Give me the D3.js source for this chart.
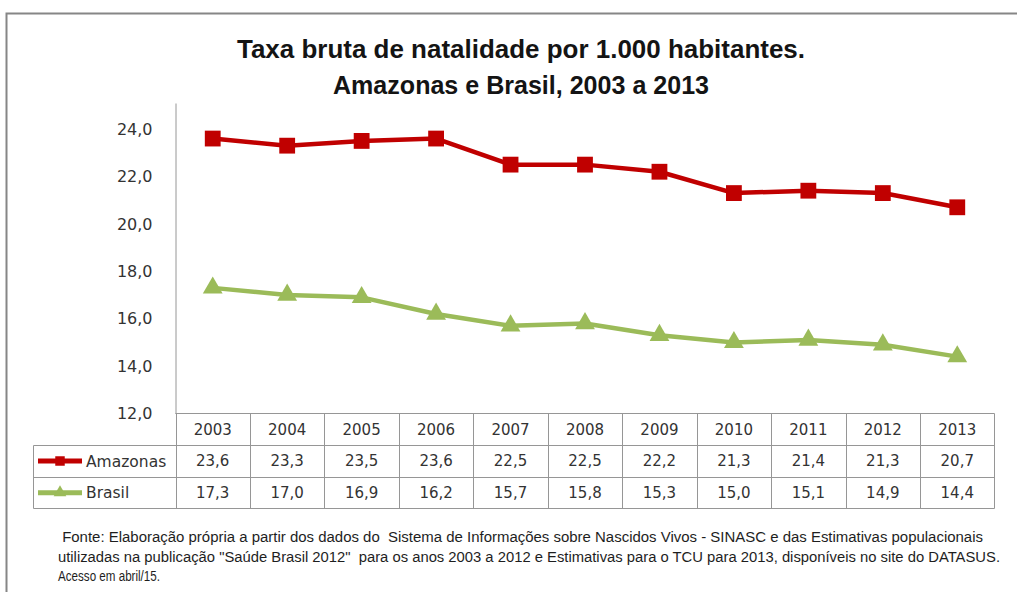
<!DOCTYPE html>
<html>
<head>
<meta charset="utf-8">
<script src="https://cdn.jsdelivr.net/npm/d3@7"></script>
<style>
  html, body { margin: 0; padding: 0; background: #fff; }
  svg { display: block; }
</style>
</head>
<body>
<div id="canvas"></div>
<script>
// Data.
const YEARS = ["2003", "2004", "2005", "2006", "2007", "2008", "2009", "2010", "2011", "2012", "2013"];
const AMAZONAS = [23.6, 23.3, 23.5, 23.6, 22.5, 22.5, 22.2, 21.3, 21.4, 21.3, 20.7];
const BRASIL = [17.3, 17.0, 16.9, 16.2, 15.7, 15.8, 15.3, 15.0, 15.1, 14.9, 14.4];
const SERIES_NAMES = ["Amazonas", "Brasil"];
const Y_TICKS = [12, 14, 16, 18, 20, 22, 24];

const TITLE_LINES = [
    "Taxa bruta de natalidade por 1.000 habitantes.",
    "Amazonas e Brasil, 2003 a 2013"
];
const NOTE_LINES = [
    " Fonte: Elaboração própria a partir dos dados do  Sistema de Informações sobre Nascidos Vivos - SINASC e das Estimativas populacionais",
    "utilizadas na publicação \"Saúde Brasil 2012\"  para os anos 2003 a 2012 e Estimativas para o TCU para 2013, disponíveis no site do DATASUS.",
    "Acesso em abril/15."
];

// Dimensions and colours.
const WIDTH = 1017;
const HEIGHT = 592;
const PLOT_LEFT = 175.5;
const PLOT_RIGHT = 994.5;
const PLOT_TOP = 103;
const PLOT_BOTTOM = 413.5;
const TABLE_LEFT = 33.5;
const TABLE_BOTTOM = 508.5;

const RED = "rgb(192, 0, 0)";
const GREEN = "rgb(155, 187, 89)";
const GRID_COLOR = "rgb(150, 150, 150)";
const TEXT_COLOR = "rgb(51, 51, 51)";
const NUM_FONT = "'DejaVu Sans', Verdana, sans-serif";
const TITLE_FONT = "'Liberation Sans Narrow', 'Liberation Sans', Arial, sans-serif";

const series = [
    { name: SERIES_NAMES[0], values: AMAZONAS, color: RED, marker: d3.symbolSquare, size: 250, legendSize: 90 },
    { name: SERIES_NAMES[1], values: BRASIL, color: GREEN, marker: d3.symbolTriangle, size: 170, legendSize: 70 }
];

const svg = d3.select("#canvas")
    .append("svg")
    .attr("width", WIDTH)
    .attr("height", HEIGHT);

// Outer frame of the chart area.
svg.append("rect")
    .attr("x", 6.5)
    .attr("y", 13.5)
    .attr("width", WIDTH + 20)
    .attr("height", HEIGHT + 20)
    .attr("fill", "white")
    .attr("stroke", "rgb(134, 134, 134)")
    .attr("stroke-width", 2);

// Title.
svg.append("g")
    .selectAll("text")
    .data(TITLE_LINES)
    .join("text")
    .attr("x", 521)
    .attr("y", (d, i) => 58 + i * 36)
    .attr("text-anchor", "middle")
    .attr("font-family", TITLE_FONT)
    .attr("font-weight", "bold")
    .attr("font-size", 25)
    .attr("fill", "rgb(20, 20, 20)")
    .attr("textLength", (d, i) => i === 0 ? 568 : 376)
    .attr("lengthAdjust", "spacingAndGlyphs")
    .text(d => d);

// Scales.
const xScale = d3.scaleBand()
    .domain(YEARS)
    .range([PLOT_LEFT, PLOT_RIGHT]);
const xCenter = d => xScale(d) + xScale.bandwidth() / 2;

const yScale = d3.scaleLinear()
    .domain([12, 25.1])
    .range([PLOT_BOTTOM, PLOT_TOP]);

const rowScale = d3.scaleBand()
    .domain(["header", ...SERIES_NAMES])
    .range([PLOT_BOTTOM, TABLE_BOTTOM]);

// Y axis.
const yAxis = d3.axisLeft(yScale)
    .tickValues(Y_TICKS)
    .tickSize(0)
    .tickSizeOuter(0)
    .tickPadding(23)
    .tickFormat(d => d3.format(".1f")(d).replace(".", ","));

const yAxisGroup = svg.append("g")
    .attr("transform", `translate(${PLOT_LEFT}, 0)`)
    .call(yAxis);
yAxisGroup.select(".domain").attr("stroke", GRID_COLOR);
yAxisGroup.selectAll("text")
    .attr("font-family", NUM_FONT)
    .attr("font-size", 16)
    .attr("fill", TEXT_COLOR);

// Data table grid.
const table = svg.append("g")
    .attr("stroke", GRID_COLOR)
    .attr("stroke-width", 1);

table.append("line")
    .attr("x1", PLOT_LEFT).attr("x2", PLOT_RIGHT)
    .attr("y1", PLOT_BOTTOM).attr("y2", PLOT_BOTTOM);

table.selectAll(".rowLine")
    .data(SERIES_NAMES)
    .join("line")
    .attr("class", "rowLine")
    .attr("x1", TABLE_LEFT).attr("x2", PLOT_RIGHT)
    .attr("y1", d => Math.round(rowScale(d)) + 0.5)
    .attr("y2", d => Math.round(rowScale(d)) + 0.5);

table.append("line")
    .attr("x1", TABLE_LEFT).attr("x2", PLOT_RIGHT)
    .attr("y1", TABLE_BOTTOM).attr("y2", TABLE_BOTTOM);

table.append("line")
    .attr("x1", TABLE_LEFT).attr("x2", TABLE_LEFT)
    .attr("y1", Math.round(rowScale(SERIES_NAMES[0])) + 0.5)
    .attr("y2", TABLE_BOTTOM);

table.selectAll(".colLine")
    .data([...YEARS, "end"])
    .join("line")
    .attr("class", "colLine")
    .attr("x1", d => d === "end" ? PLOT_RIGHT : Math.round(xScale(d)) + 0.5)
    .attr("x2", d => d === "end" ? PLOT_RIGHT : Math.round(xScale(d)) + 0.5)
    .attr("y1", PLOT_BOTTOM)
    .attr("y2", TABLE_BOTTOM);

// Table text: year header and values.
const rowMid = r => rowScale(r) + rowScale.bandwidth() / 2;

svg.append("g")
    .selectAll("text")
    .data(YEARS)
    .join("text")
    .attr("x", d => xCenter(d))
    .attr("y", rowMid("header"))
    .attr("dy", "0.36em")
    .attr("text-anchor", "middle")
    .attr("font-family", NUM_FONT)
    .attr("font-size", 15)
    .attr("fill", TEXT_COLOR)
    .text(d => d);

series.forEach(s => {
    svg.append("g")
        .selectAll("text")
        .data(s.values)
        .join("text")
        .attr("x", (d, i) => xCenter(YEARS[i]))
        .attr("y", rowMid(s.name))
        .attr("dy", "0.36em")
        .attr("text-anchor", "middle")
        .attr("font-family", NUM_FONT)
        .attr("font-size", 15)
        .attr("fill", TEXT_COLOR)
        .text(d => d3.format(".1f")(d).replace(".", ","));

    // Legend key inside the table.
    const ly = rowMid(s.name);
    svg.append("line")
        .attr("x1", 38).attr("x2", 82)
        .attr("y1", ly).attr("y2", ly)
        .attr("stroke", s.color)
        .attr("stroke-width", 5);
    svg.append("path")
        .attr("d", d3.symbol(s.marker, s.legendSize)())
        .attr("transform", `translate(60, ${ly})`)
        .attr("fill", s.color);
    svg.append("text")
        .attr("x", 86)
        .attr("y", ly)
        .attr("dy", "0.36em")
        .attr("font-family", NUM_FONT)
        .attr("font-size", 15.5)
        .attr("fill", TEXT_COLOR)
        .text(s.name);
});

// Lines and markers.
const line = d3.line()
    .x((d, i) => xCenter(YEARS[i]))
    .y(d => yScale(d));

series.forEach(s => {
    svg.append("path")
        .datum(s.values)
        .attr("d", line)
        .attr("fill", "none")
        .attr("stroke", s.color)
        .attr("stroke-width", 4.5)
        .attr("stroke-linejoin", "round");

    svg.append("g")
        .selectAll("path")
        .data(s.values)
        .join("path")
        .attr("d", d3.symbol(s.marker, s.size)())
        .attr("transform", (d, i) => `translate(${xCenter(YEARS[i])}, ${yScale(d)})`)
        .attr("fill", s.color);
});

// Source note.
svg.append("g")
    .selectAll("text")
    .data(NOTE_LINES)
    .join("text")
    .attr("x", 58)
    .attr("y", (d, i) => 542 + i * 19.5)
    .attr("font-family", TITLE_FONT)
    .attr("font-size", 14)
    .attr("fill", "rgb(30, 30, 30)")
    .attr("textLength", (d, i) => [925, 942, 102][i])
    .attr("lengthAdjust", "spacingAndGlyphs")
    .attr("xml:space", "preserve")
    .text(d => d);
</script>
</body>
</html>
